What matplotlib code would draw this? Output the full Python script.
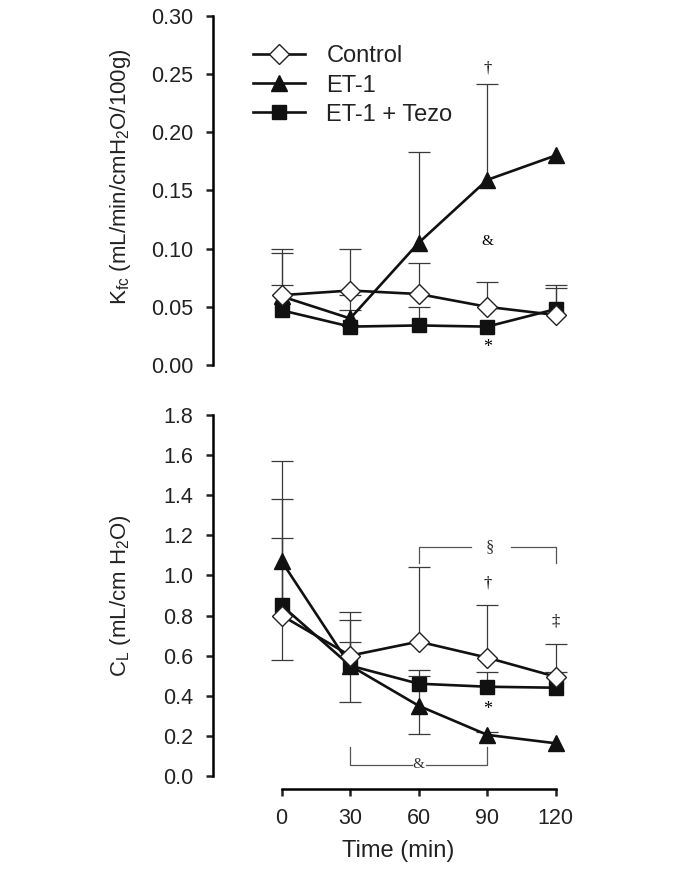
import numpy as np
import matplotlib
matplotlib.use('Agg')
import matplotlib.pyplot as plt

plt.rcParams['font.family'] = ['Liberation Sans', 'DejaVu Sans']

#%% data
time = [0, 30, 60, 90, 120]
labels = ['Control', 'ET-1', 'ET-1 + Tezo']

# top panel: Kfc
kfc_ctrl = [0.060, 0.064, 0.061, 0.050, 0.043]
kfc_et1 = [0.059, 0.040, 0.105, 0.159, 0.180]
kfc_tezo = [0.047, 0.033, 0.034, 0.033, 0.048]
# error bar ends (nan = no bar)
kfc_ctrl_hi = [0.100, 0.100, 0.088, 0.071, 0.066]
kfc_et1_hi = [0.096, 0.047, 0.183, 0.241, np.nan]
kfc_tezo_hi = [0.069, 0.060, 0.050, np.nan, 0.069]

# bottom panel: CL
cl_ctrl = [0.80, 0.60, 0.67, 0.59, 0.495]
cl_et1 = [1.07, 0.55, 0.35, 0.205, 0.163]
cl_tezo = [0.85, 0.55, 0.46, 0.445, 0.44]
cl_ctrl_hi = [1.38, 0.78, 1.04, 0.85, 0.66]
cl_et1_hi = [1.57, 0.82, 0.50, 0.22, np.nan]
cl_et1_lo = [0.58, 0.37, 0.21, np.nan, np.nan]
cl_tezo_hi = [1.185, 0.67, 0.53, 0.52, 0.52]

#%% styles
styles = [dict(marker='D', mfc='white', mec='#222222', ms=10, mew=1.0),
          dict(marker='^', mfc='#111111', mec='#111111', ms=11),
          dict(marker='s', mfc='#111111', mec='#111111', ms=10.5)]
line_c = '#111111'
err_c = '#3a3a3a'
cap_w = 4.8


def errbars(ax, x, y, ends):
    for xi, yi, ei in zip(x, y, ends):
        if np.isnan(ei):
            continue
        ax.vlines(xi, yi, ei, color=err_c, lw=0.9, zorder=1)
        ax.hlines(ei, xi - cap_w, xi + cap_w, color=err_c, lw=0.9, zorder=1)


def style_axis(ax):
    for s in ['top', 'right']:
        ax.spines[s].set_visible(False)
    ax.spines['left'].set_linewidth(1.8)
    ax.spines['bottom'].set_linewidth(1.8)
    ax.tick_params(axis='both', direction='out', length=4.7, width=1.8,
                   labelsize=15.5, colors='#222222')
    ax.tick_params(axis='y', pad=9.5)
    ax.set_xlim(-30, 132)


fig = plt.figure(figsize=(6.85, 8.71), dpi=100)
ax1 = fig.add_axes([0.3112, 0.5809, 0.540, 0.4010])
ax2 = fig.add_axes([0.3112, 0.1091, 0.540, 0.4145])

serif = ['Liberation Serif', 'DejaVu Serif']

#%% top panel
errbars(ax1, time, kfc_tezo, kfc_tezo_hi)
errbars(ax1, time, kfc_et1, kfc_et1_hi)
errbars(ax1, time, kfc_ctrl, kfc_ctrl_hi)
series = [kfc_ctrl, kfc_et1, kfc_tezo]
for k in [2, 1, 0]:
    ax1.plot(time, series[k], color=line_c, lw=1.9, zorder=3 + (2 - k),
             label=labels[k], **styles[k])
style_axis(ax1)
ax1.set_ylim(0, 0.30)
ax1.set_yticks(np.arange(0, 0.31, 0.05))
ax1.set_yticklabels(['%.2f' % v for v in np.arange(0, 0.31, 0.05)])
ax1.spines['bottom'].set_visible(False)
ax1.spines['left'].set_bounds(0, 0.30)
ax1.set_xticks([])
ax1.set_ylabel(r'$\mathregular{K_{fc}}$ (mL/min/cmH$\mathregular{_2}$O/100g)',
               fontsize=16, color='#222222')
ax1.yaxis.set_label_coords(-0.218, 0.538)

h, l = ax1.get_legend_handles_labels()
order = [l.index(s) for s in labels]
ax1.legend([h[i] for i in order], [l[i] for i in order], loc='upper left',
           bbox_to_anchor=(0.108, 0.915), frameon=False, fontsize=17,
           handlelength=2.2, handletextpad=0.9, labelspacing=0.30,
           borderpad=0, borderaxespad=0, labelcolor='#222222')

ax1.text(90, 0.255, '\u2020', family=serif, fontsize=12, ha='center', va='center')
ax1.text(90, 0.1065, '&', family=serif, fontsize=11, ha='center', va='center')
ax1.text(90, 0.0150, '*', family=serif, fontsize=13, ha='center', va='center')

#%% bottom panel
errbars(ax2, time, cl_tezo, cl_tezo_hi)
errbars(ax2, time, cl_et1, cl_et1_hi)
errbars(ax2, time, cl_et1, cl_et1_lo)
errbars(ax2, time, cl_ctrl, cl_ctrl_hi)
series = [cl_ctrl, cl_et1, cl_tezo]
for k in [2, 1, 0]:
    ax2.plot(time, series[k], color=line_c, lw=1.9, zorder=3 + (2 - k),
             **styles[k])
style_axis(ax2)
ax2.set_ylim(0, 1.8)
ax2.set_yticks(np.arange(0, 1.81, 0.2))
ax2.set_yticklabels(['%.1f' % v for v in np.arange(0, 1.81, 0.2)])
ax2.spines['left'].set_bounds(0, 1.8)
ax2.spines['bottom'].set_position(('outward', 9.5))
ax2.spines['bottom'].set_bounds(0, 120)
ax2.set_xticks(time)
ax2.tick_params(axis='x', pad=8.5)
ax2.set_xlabel('Time (min)', fontsize=17, color='#222222', labelpad=8)
ax2.set_ylabel(r'$\mathregular{C_L}$ (mL/cm H$\mathregular{_2}$O)',
               fontsize=16, color='#222222')
ax2.yaxis.set_label_coords(-0.218, 0.5)

# significance brackets
br_c = '#555555'
ax2.plot([60, 60, 83], [1.06, 1.143, 1.143], color=br_c, lw=0.9)
ax2.plot([100.5, 120, 120], [1.143, 1.143, 1.06], color=br_c, lw=0.9)
ax2.text(91, 1.143, '\u00a7', family=serif, fontsize=12, ha='center', va='center', color='#333333')
ax2.plot([30, 30, 57], [0.146, 0.055, 0.055], color=br_c, lw=0.9)
ax2.plot([63, 90, 90], [0.055, 0.055, 0.146], color=br_c, lw=0.9)
ax2.text(60, 0.055, '&', family=serif, fontsize=11, ha='center', va='center', color='#333333')
ax2.text(90, 0.96, '\u2020', family=serif, fontsize=12, ha='center', va='center')
ax2.text(120, 0.77, '\u2021', family=serif, fontsize=12, ha='center', va='center')
ax2.text(90, 0.33, '*', family=serif, fontsize=13, ha='center', va='center')

fig.savefig('out.png', dpi=100)
